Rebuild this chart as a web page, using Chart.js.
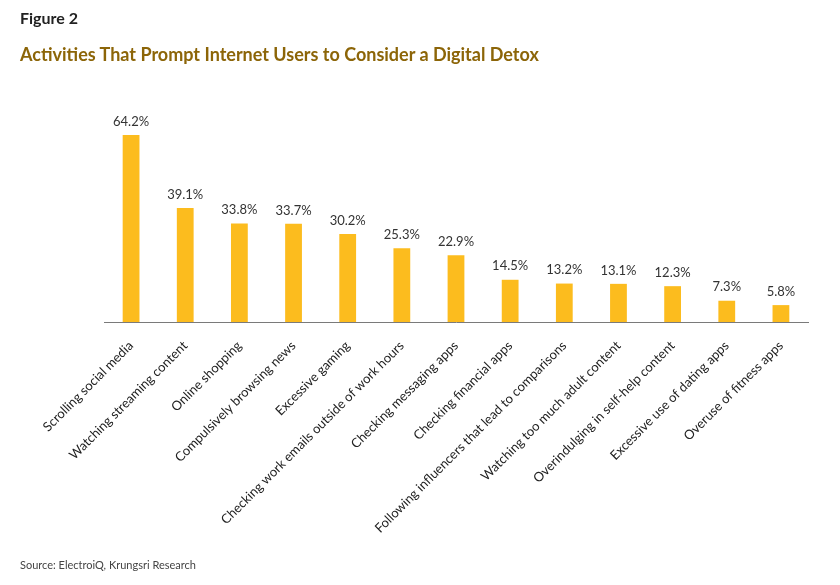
<!DOCTYPE html>
<html>
<head>
<meta charset="utf-8">
<script src="https://cdn.jsdelivr.net/npm/chart.js@4/dist/chart.umd.min.js"></script>
<style>
  html, body { margin: 0; padding: 0; background: #fff; }
  #wrap { position: relative; width: 840px; height: 585px; overflow: hidden; }
  #fig { position: absolute; left: 20px; top: 8px; font: bold 16px Lato, "Open Sans", sans-serif; color: #222; }
  #title { position: absolute; left: 20px; top: 43px; font: bold 18px Lato, "Open Sans", sans-serif; color: #8C6508; }
  #src { position: absolute; left: 20px; top: 558px; font: 11px Lato, "Open Sans", sans-serif; color: #444; }
  canvas { position: absolute; left: 0; top: 0; }
</style>
</head>
<body>
<div id="wrap">
  <canvas id="c" width="840" height="585"></canvas>
  <div id="fig">Figure 2</div>
  <div id="title">Activities That Prompt Internet Users to Consider a Digital Detox</div>
  <div id="src">Source: ElectroiQ, Krungsri Research</div>
</div>
<script>
const categories = [
  "Scrolling social media",
  "Watching streaming content",
  "Online shopping",
  "Compulsively browsing news",
  "Excessive gaming",
  "Checking work emails outside of work hours",
  "Checking messaging apps",
  "Checking financial apps",
  "Following influencers that lead to comparisons",
  "Watching too much adult content",
  "Overindulging in self-help content",
  "Excessive use of dating apps",
  "Overuse of fitness apps"
];
const values = [64.2, 39.1, 33.8, 33.7, 30.2, 25.3, 22.9, 14.5, 13.2, 13.1, 12.3, 7.3, 5.8];

const labelPlugin = {
  id: 'valueLabels',
  afterDatasetsDraw(chart) {
    const ctx = chart.ctx;
    const meta = chart.getDatasetMeta(0);
    ctx.save();
    ctx.font = '13px Lato, "Open Sans", sans-serif';
    ctx.fillStyle = '#333';
    ctx.textAlign = 'center';
    ctx.textBaseline = 'bottom';
    meta.data.forEach((bar, i) => {
      ctx.fillText(values[i].toFixed(1) + '%', bar.x, bar.y - 7);
    });
    ctx.restore();
  }
};

new Chart(document.getElementById('c'), {
  type: 'bar',
  data: {
    labels: categories,
    datasets: [{
      data: values,
      backgroundColor: '#FCBC1E',
      barPercentage: 0.31,
      categoryPercentage: 1.0
    }]
  },
  options: {
    responsive: false,
    animation: false,
    events: [],
    layout: { padding: { left: 104, right: 32, top: 89, bottom: 0 } },
    plugins: { legend: { display: false }, tooltip: { enabled: false } },
    scales: {
      x: {
        grid: { display: false },
        border: { display: true, color: '#7a7a7a', width: 1 },
        ticks: {
          color: '#222',
          font: { family: 'Lato, "Open Sans", sans-serif', size: 13 },
          minRotation: 45,
          maxRotation: 45,
          autoSkip: false,
          padding: 8
        },
        afterFit(scale) { scale.height = 263; }
      },
      y: {
        display: false,
        min: 0,
        max: 80
      }
    }
  },
  plugins: [labelPlugin]
});
</script>
</body>
</html>
